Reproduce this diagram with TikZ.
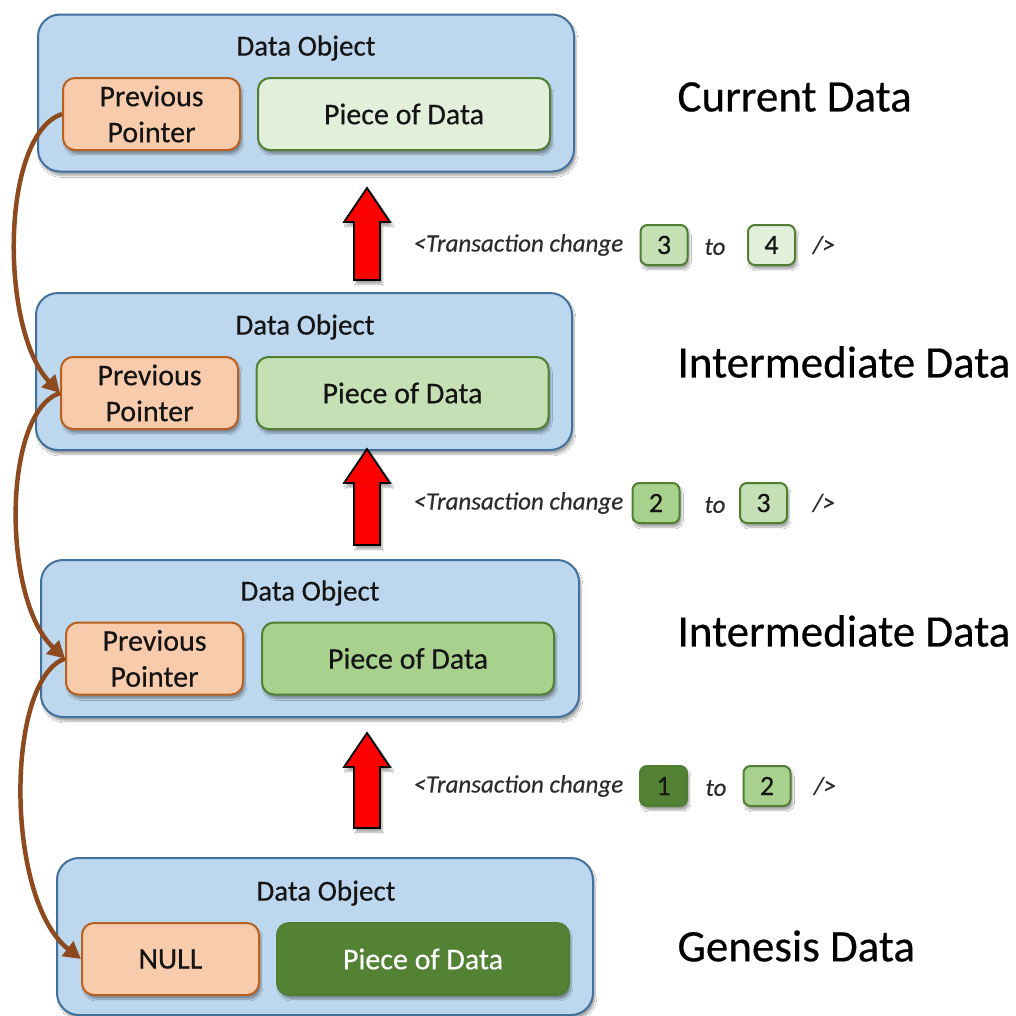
\documentclass[tikz,border=0pt]{standalone}
\usepackage{fontspec}
\setmainfont{Carlito}[FakeBold=0.35]
\usetikzlibrary{shadows.blur,arrows.meta}

\definecolor{objfill}{HTML}{BDD7EE}
\definecolor{objline}{HTML}{41719C}
\definecolor{ptrfill}{HTML}{F8CBAD}
\definecolor{ptrline}{HTML}{B8601F}
\definecolor{gA}{HTML}{E2EFDA}
\definecolor{gB}{HTML}{C5E0B4}
\definecolor{gC}{HTML}{A9D18E}
\definecolor{gD}{HTML}{548235}
\definecolor{gline}{HTML}{507E32}
\definecolor{linkcol}{HTML}{8C4A1E}
\definecolor{txt}{HTML}{141414}

\tikzset{
  shade/.style={blur shadow={shadow xshift=2pt,shadow yshift=-4pt,shadow blur steps=6,shadow opacity=35}},
  objbox/.style={draw=objline,line width=2pt,fill=objfill,rounded corners=22pt,
    minimum width=536pt,minimum height=157pt,shade},
  ptrbox/.style={draw=ptrline,line width=2pt,fill=ptrfill,rounded corners=12pt,
    minimum width=177pt,minimum height=72pt,align=center,font=\fontsize{30}{36}\selectfont,
    text=txt,shade},
  databox/.style={draw=gline,line width=2pt,rounded corners=12pt,
    minimum width=292pt,minimum height=72pt,font=\fontsize{30}{36}\selectfont,text=txt,shade},
  numbox/.style={draw=gline,line width=2pt,rounded corners=7pt,
    minimum width=47pt,minimum height=40pt,font=\fontsize{28}{30}\selectfont,text=txt,shade},
  objtitle/.style={font=\fontsize{29}{32}\selectfont,text=txt},
  sidelabel/.style={anchor=west,font=\fontsize{45}{50}\selectfont,text=black},
  txlabel/.style={font=\fontsize{25}{30}\selectfont\itshape,text=txt!90},
  link/.style={draw=linkcol,line width=4.5pt,-{Triangle[width=18pt,length=17pt]}},
  uparrow/.style={fill=red,draw=black,line width=1.8pt,line join=miter,shade}
}

\begin{document}
\begin{tikzpicture}[x=1pt,y=-1pt]
\useasboundingbox (0,0) rectangle (1016,1015);
\fill[white] (0,0) rectangle (1016,1015);

% ---- data objects ----
\node[objbox] (o1) at (306,93) {};
\node[objtitle] (t1) at (306,48) {Data Object};
\node[ptrbox] (p1) at (151.5,114) {Previous\\Pointer};
\node[databox,fill=gA] (d1) at (404,114) {Piece of Data};

\node[objbox] (o2) at (304,371.5) {};
\node[objtitle] (t2) at (305,327) {Data Object};
\node[ptrbox] (p2) at (149.5,393) {Previous\\Pointer};
\node[databox,fill=gB] (d2) at (402.5,393) {Piece of Data};

\node[objbox,minimum width=538pt] (o3) at (310,638.5) {};
\node[objtitle] (t3) at (310,593) {Data Object};
\node[ptrbox] (p3) at (154.5,658.5) {Previous\\Pointer};
\node[databox,fill=gC] (d3) at (408,658.5) {Piece of Data};

\node[objbox] (o4) at (325,936.5) {};
\node[objtitle] (t4) at (326,893) {Data Object};
\node[ptrbox] (p4) at (170.5,959) {NULL};
\node[databox,fill=gD,text=white] (d4) at (423,959) {Piece of Data};

% ---- side labels ----
\node[sidelabel] (s1) at (674,97) {Current Data};
\node[sidelabel] (s2) at (674,362) {Intermediate Data};
\node[sidelabel] (s3) at (674,631) {Intermediate Data};
\node[sidelabel] (s4) at (674,946) {Genesis Data};

% ---- up arrows between versions ----
\foreach \top/\bot in {188/280, 449/545, 733/828}{
  \filldraw[uparrow] (354,\bot) -- (354,\top+34) -- (344,\top+34) -- (367,\top)
    -- (390,\top+34) -- (380,\top+34) -- (380,\bot) -- cycle;
}

% ---- transaction notes ----
\node[txlabel,anchor=west] (x1) at (410,245) {<Transaction change};
\node[numbox,fill=gB] (a1) at (664,245) {3};
\node[txlabel] (to1) at (715,247) {to};
\node[numbox,fill=gA] (b1) at (771.5,245) {4};
\node[txlabel] (e1) at (824,245) {/>};

\node[txlabel,anchor=west] (x2) at (410,503) {<Transaction change};
\node[numbox,fill=gC] (a2) at (656,503) {2};
\node[txlabel] (to2) at (715,505) {to};
\node[numbox,fill=gB] (b2) at (763.5,503) {3};
\node[txlabel] (e2) at (824,503) {/>};

\node[txlabel,anchor=west] (x3) at (410,786) {<Transaction change};
\node[numbox,fill=gD] (a3) at (663.5,786) {1};
\node[txlabel] (to3) at (716,788) {to};
\node[numbox,fill=gC] (b3) at (767,786) {2};
\node[txlabel] (e3) at (825,786) {/>};

% ---- previous-pointer links ----
\draw[link] (p1.west) .. controls (0,135) and (0,330) .. (p2.west);
\draw[link] (p2.west) .. controls (2,412) and (2,600) .. (p3.west);
\draw[link] (p3.west) .. controls (5,680) and (5,900) .. (p4.west);
\end{tikzpicture}
\end{document}
